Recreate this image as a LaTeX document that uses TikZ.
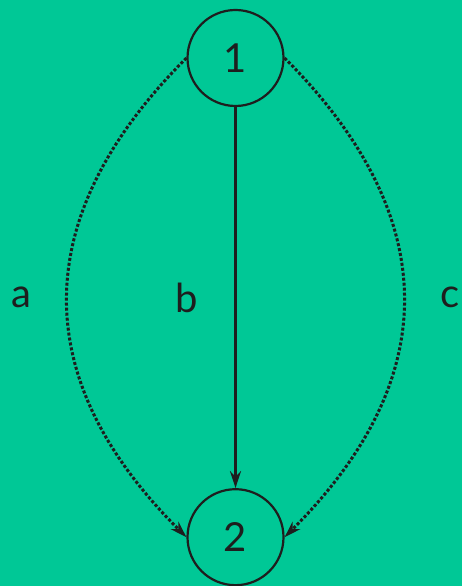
\documentclass[tikz,border=0pt]{standalone}
\usepackage{fontspec}
\setmainfont{Lato}
\usepackage{xcolor}
\definecolor{mintbg}{HTML}{00C896}
\definecolor{inkdark}{HTML}{1E1E1E}
\usepackage{tikz}
\usetikzlibrary{positioning,arrows.meta}

\begin{document}
\begin{tikzpicture}[
      x=1pt, y=1pt,
      vertex/.style={circle, draw=inkdark, line width=2.2pt, minimum size=96pt,
                     inner sep=0pt, text=inkdark, font=\fontsize{40}{40}\selectfont},
      link/.style={draw=inkdark, line width=2.6pt, -{Stealth[length=17pt, width=11pt]}},
      dotlink/.style={draw=inkdark, line width=3pt, dotted,
                      -{Stealth[length=17pt, width=11pt, line width=0pt]}},
      tag/.style={inner sep=0pt, text=inkdark, font=\fontsize{40}{40}\selectfont},
    ]
    \fill[mintbg] (0,0) rectangle (462,586);
    \useasboundingbox (0,0) rectangle (462,586);

    \node[vertex] (v1) at (235.5,528) {1};
    \node[vertex, below=381pt of v1] (v2) {2};

    \draw[link] (v1.south) -- node[tag, left=36pt] {b} (v2.north);
    \draw[dotlink] (v1.west) to[out=225, in=135, looseness=1.2]
          node[tag, left=35pt] {a} (v2.west);
    \draw[dotlink] (v1.east) to[out=-45, in=45, looseness=1.2]
          node[tag, right=35pt] {c} (v2.east);
  \end{tikzpicture}
\end{document}
